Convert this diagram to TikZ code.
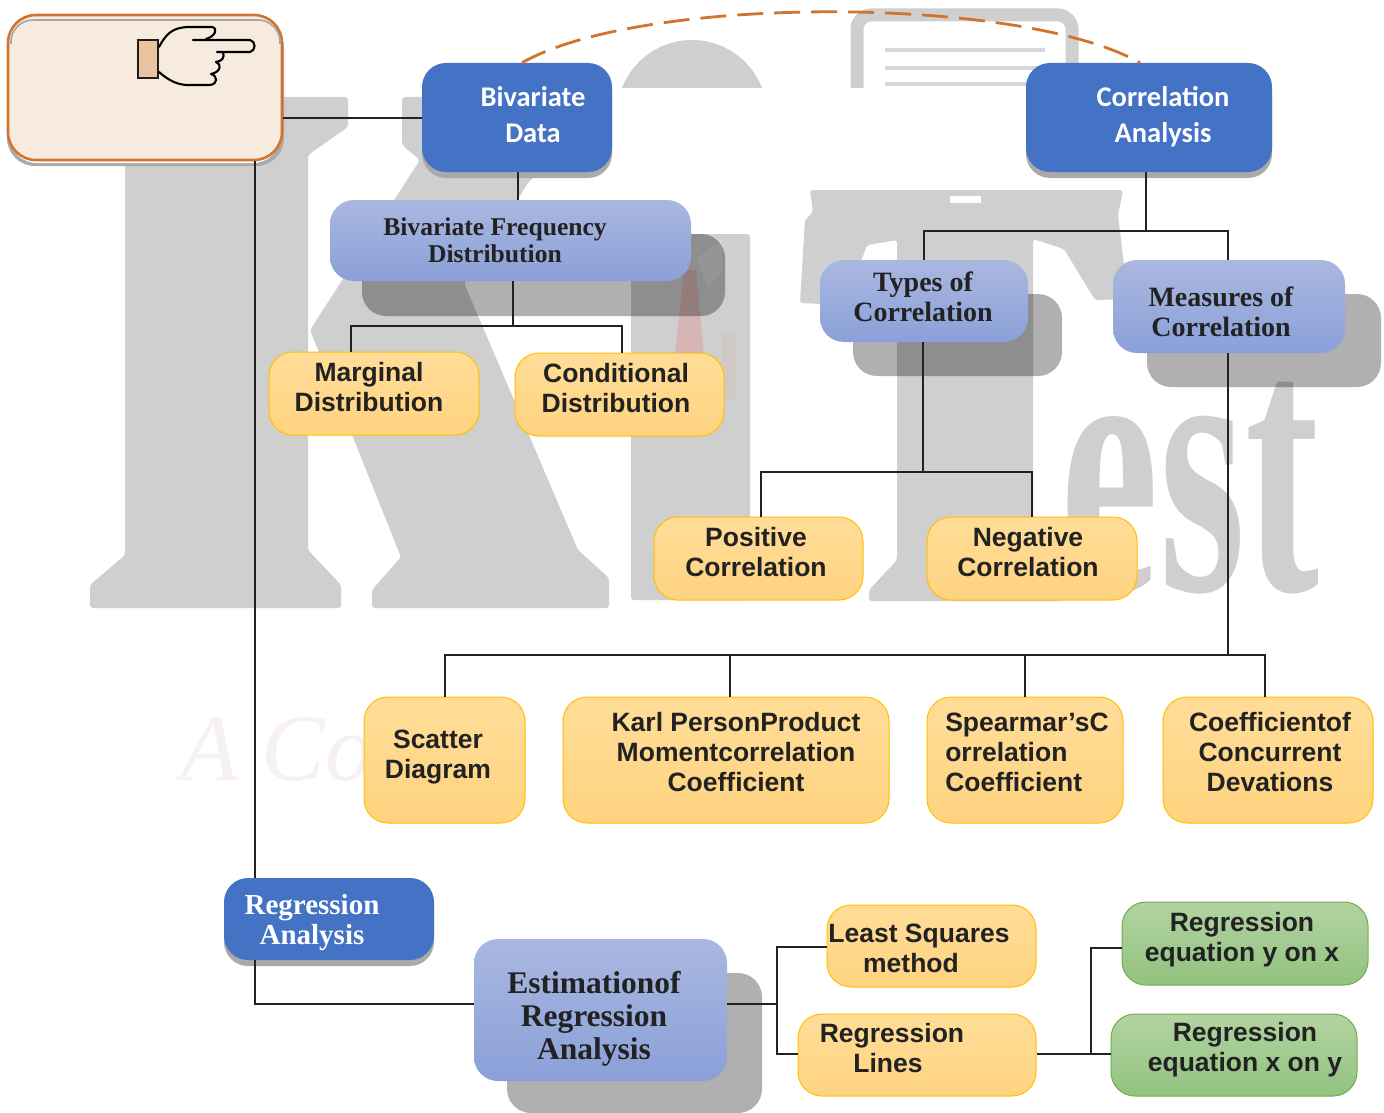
\documentclass[tikz,border=0pt]{standalone}
\usepackage{fontspec}
\setmainfont{Liberation Sans}
\newfontfamily\serifb{Liberation Serif}[BoldFont={Liberation Serif Bold}]
\newfontfamily\carl{Carlito}
\usetikzlibrary{calc}
\definecolor{wm}{HTML}{CFCFCF}
\definecolor{ink}{HTML}{222222}
\definecolor{orangeline}{HTML}{D0742F}
\tikzset{
  boxbase/.style={rectangle,rounded corners=24pt,inner sep=0pt,text=ink,align=center},
  bluebox/.style={boxbase,fill={rgb,255:red,68;green,114;blue,196},text=white,font=\carl\bfseries\fontsize{28.5}{36}\selectfont},
  bluesbox/.style={boxbase,fill={rgb,255:red,68;green,114;blue,196},text=white,font=\serifb\bfseries\fontsize{29}{30}\selectfont},
  purplebox/.style={boxbase,top color={rgb,255:red,170;green,184;blue,224},bottom color={rgb,255:red,138;green,160;blue,216},font=\serifb\bfseries\fontsize{28}{30}\selectfont},
  yellowbox/.style={boxbase,draw={rgb,255:red,255;green,192;blue,0},line width=1pt,top color={rgb,255:red,255;green,221;blue,152},bottom color={rgb,255:red,255;green,211;blue,128},font=\bfseries\fontsize{26.5}{30}\selectfont},
  greenbox/.style={boxbase,draw={rgb,255:red,112;green,173;blue,71},line width=1pt,top color={rgb,255:red,178;green,211;blue,162},bottom color={rgb,255:red,146;green,194;blue,128},font=\bfseries\fontsize{26.5}{30}\selectfont},
  startbox/.style={boxbase,rounded corners=28pt,draw=orangeline,line width=2.6pt,fill={rgb,255:red,247;green,235;blue,223}},
  softshadow/.style={fill=black,opacity=.31,rounded corners=24pt},
  thinshadow/.style={fill={rgb,255:red,170;green,170;blue,170},rounded corners=24pt},
  link/.style={draw=ink,line width=1.1pt},
  wmshape/.style={fill=wm,draw=none,rounded corners=3pt},
  arcline/.style={draw=orangeline,line width=2.8pt,dash pattern=on 26pt off 11pt},
  handline/.style={draw=black,line width=2.1pt,line cap=round,line join=round}
}
\def\parsebox#1,#2,#3,#4\relax{\def\xa{#1}\def\ya{#2}\def\xb{#3}\def\yb{#4}}
% [col align]{name}{x0,y0,x1,y1}{style}{text centre x}{text centre y}{text}
\newcommand\bx[7][c]{%
  \parsebox#3\relax
  \pgfmathsetmacro\cx{(\xa+\xb)/2}\pgfmathsetmacro\cy{(\ya+\yb)/2}%
  \pgfmathsetmacro\boxw{\xb-\xa}\pgfmathsetmacro\boxh{\yb-\ya}%
  \pgfmathsetmacro\ddx{2*(#5-\cx)}\pgfmathsetmacro\ddy{#6+3-\cy}%
  \node[#4,minimum width=\boxw pt,minimum height=\boxh pt] (#2) at (\cx,\cy)
   {\raisebox{\dimexpr-\ddy pt-.25em\relax}[0pt][0pt]{\makebox[0pt]{\hspace*{\ddx pt}\begin{tabular}{@{}#1@{}}#7\end{tabular}}}};%
}
\begin{document}
\begin{tikzpicture}[x=1pt,y=-1pt]
\useasboundingbox (0,0) rectangle (1384,1113);
\fill[white] (0,0) rectangle (1384,1113);
% ---- watermark
\fill[wm] (692,115) circle (75);
\draw[wm,line width=13pt,rounded corners=14pt] (857,100) -- (857,15) -- (1072,15) -- (1072,100);
\foreach \yy in {50,68,84}{\draw[wm!80!white,line width=4pt] (885,\yy) -- (1045,\yy);}
\fill[white] (612,88) rectangle (1026,190);
% K
\path[wmshape] (100,97) -- (348,97) -- (348,127) -- (308,155) -- (308,550) -- (341,585) -- (341,608) -- (90,608) -- (90,585) -- (125,555) -- (125,130) -- (100,120) -- cycle;
\path[wmshape] (310,330) -- (420,160) -- (402,145) -- (402,97) -- (600,97) -- (600,88) -- (612,88) -- (612,125) -- (530,180) -- (464,283) -- (578,550) -- (609,578) -- (609,608) -- (372,608) -- (372,590) -- (401,557) -- cycle;
% I
\path[wmshape] (631,234) -- (750,234) -- (750,600) -- (631,600) -- cycle;
\fill[red!80!white,opacity=.16] (684,270) -- (696,270) -- (708,400) -- (670,400) -- cycle;
\fill[red!60!white,opacity=.06] (722,332) rectangle (736,400);
\fill[white,opacity=.22] (697,258) -- (722,240) -- (722,270) -- (708,288) -- cycle;
% T
\path[wmshape] (810,190) -- (1123,190) -- (1118,215) -- (1128,299) -- (1095,300) -- (1064,249) -- (1033,239) -- (1033,560) -- (1060,590) -- (1060,601) -- (869,601) -- (869,590) -- (897,560) -- (897,240) -- (867,245) -- (845,305) -- (800,303) -- (805,220) -- (813,212) -- cycle;
\fill[white] (950,196) rectangle (981,203);
% est
\node[text=wm,xscale=.6,anchor=base,font=\serifb\bfseries\fontsize{370}{370}\selectfont,inner sep=0pt] (esttext) at (1190,590) {est};
\node[text={rgb,255:red,247;green,241;blue,241},font=\serifb\itshape\fontsize{95}{95}\selectfont,anchor=base west,inner sep=0pt] (tagline) at (180,780) {A Co};
% ---- shadows
\fill[softshadow] (362,234) rectangle (725,316);
\fill[softshadow] (853,294) rectangle (1062,376);
\fill[softshadow] (1147,294) rectangle (1381,387);
\fill[softshadow] (507,973) rectangle (762,1113);
\fill[thinshadow] (422,70) rectangle (612,178);
\fill[thinshadow] (1026,70) rectangle (1272,178);
\fill[thinshadow] (224,885) rectangle (434,966);
\fill[thinshadow,rounded corners=28pt] (7,20) rectangle (284,166);
\fill[white,rounded corners=28pt] (9,20) rectangle (281,163);
% ---- nodes
\bx{start}{8,15,282,160}{startbox}{145}{88}{}
\bx{bdata}{422,63,612,172}{bluebox}{533}{113}{Bivariate\\Data}
\bx{canal}{1026,63,1272,172}{bluebox}{1163}{113}{Correlation\\Analysis}
\bx{bfd}{330,200,691,281}{purplebox,font=\serifb\bfseries\fontsize{25.6}{27}\selectfont}{495}{240}{Bivariate Frequency\\Distribution}
\bx{marg}{269,352,479,435}{yellowbox}{369}{387}{Marginal\\Distribution}
\bx{cond}{515,353,724,436}{yellowbox}{616}{388}{Conditional\\Distribution}
\bx{types}{820,260,1028,342}{purplebox}{923}{297}{Types of\\Correlation}
\bx{meas}{1113,260,1345,353}{purplebox}{1221}{312}{Measures of\\Correlation}
\bx{pos}{654,517,863,600}{yellowbox}{756}{552}{Positive\\Correlation}
\bx{neg}{927,517,1137,600}{yellowbox}{1028}{552}{Negative\\Correlation}
\bx{scatter}{364,697,525,823}{yellowbox}{438}{754}{Scatter\\Diagram}
\bx{karl}{563,697,889,823}{yellowbox}{736}{752}{Karl PersonProduct\\Momentcorrelation\\Coefficient}
\bx[l]{spear}{927,697,1123,823}{yellowbox}{1027}{752}{Spearmar’sC\\orrelation\\Coefficient}
\bx{coef}{1163,697,1373,823}{yellowbox}{1270}{752}{Coefficientof\\Concurrent\\Devations}
\bx{reg}{224,878,434,960}{bluesbox}{312}{919}{Regression\\Analysis}
\bx{estim}{474,939,727,1081}{purplebox,font=\serifb\bfseries\fontsize{31.5}{33}\selectfont}{594}{1015}{Estimationof\\Regression\\Analysis}
\bx{ls}{827,905,1036,987}{yellowbox}{919}{948}{Least Squares\\method\kern16pt}
\bx{rl}{798,1014,1036,1096}{yellowbox}{892}{1048}{Regression\\Lines\kern8pt}
\bx{gr1}{1122,902,1368,985}{greenbox}{1242}{937}{Regression\\equation y on x}
\bx{gr2}{1111,1014,1357,1096}{greenbox}{1245}{1047}{Regression\\equation x on y}
\draw[gray!70,line width=1.6pt,rounded corners=22pt] (11,44) -- (11,20) -- (280,20) -- (280,44);
% ---- hand
\filldraw[draw={rgb,255:red,30;green,30;blue,30},line width=2.6pt,fill={rgb,255:red,232;green,196;blue,160}] (138,40) rectangle (158,78);
\draw[handline] (159,47) .. controls (166,34) and (172,28) .. (187,27) -- (212,27) .. controls (218,28) and (216,36) .. (206,39);
\draw[handline] (193,40) -- (250,40) .. controls (256,41) and (256,51) .. (250,52) -- (217,52);
\draw[handline] (223,52) .. controls (225,58) and (222,61) .. (216,62) .. controls (222,64) and (221,72) .. (211,74) .. controls (218,76) and (218,84) .. (210,85) -- (186,85) .. controls (174,84) and (166,78) .. (159,72);
% ---- trunk coordinates
\coordinate (ja) at (518,200);
\coordinate (jb) at (513,326);
\coordinate (jc) at (1146,231);
\coordinate (jd) at (923,472);
\coordinate (je) at (1228,655);
\coordinate (jf) at (777,1004);
\coordinate (jg) at (1091,1054);
\coordinate (jh) at (255,1004);
% ---- connectors
\draw[arcline] ($(bdata.north)+(5,0)$) .. controls ($(bdata.north)+(123,-68)$) and ($(canal.north)+(-129,-68)$) .. ($(canal.north)+(-9,0)$);
\draw[link] (start.east |- 0,118) -- (bdata.west |- 0,118);
\draw[link] (jh |- start.south) -- (jh |- reg.north);
\draw[link] (jh |- reg.south) -- (jh) -- (estim.west |- jh);
\draw[link] (ja |- bdata.south) -- (ja |- bfd.north);
\draw[link] (jb |- bfd.south) -- (jb);
\draw[link] (351,352) -- (351,326) -- (622,326) -- (622,353);
\draw[link] (jc |- canal.south) -- (jc);
\draw[link] (924,260) -- (924,231) -- (1228,231) -- (1228,260);
\draw[link] (jd |- types.south) -- (jd);
\draw[link] (761,517) -- (761,472) -- (1032,472) -- (1032,517);
\draw[link] (je |- meas.south) -- (je);
\draw[link] (445,697) -- (445,655) -- (1265,655) -- (1265,697);
\draw[link] (730,655) -- (730,697);
\draw[link] (1025,655) -- (1025,697);
\draw[link] (estim.east |- jf) -- (jf);
\draw[link] (ls.west |- 0,947) -- (777,947) -- (777,1054) -- (rl.west |- 0,1054);
\draw[link] (rl.east |- jg) -- (gr2.west |- jg);
\draw[link] (gr1.west |- 0,948) -- (1091,948) -- (jg);
\end{tikzpicture}
\end{document}
